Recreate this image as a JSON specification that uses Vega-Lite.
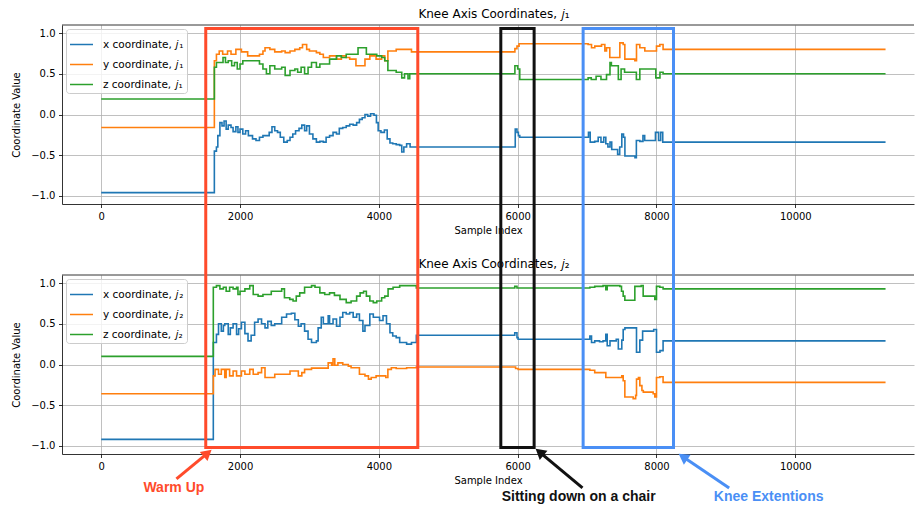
{
  "$schema": "https://vega.github.io/schema/vega-lite/v6.json",
  "padding": {"left": 11, "top": 8, "right": 0, "bottom": 0},
  "background": "white",
  "config": {
    "font": "DejaVu Sans",
    "view": {"stroke": null},
    "axis": {"labelFont": "DejaVu Sans", "labelFontSize": 10, "labelColor": "#000", "titleFont": "DejaVu Sans", "titleFontSize": 10, "titleFontWeight": "normal", "titleColor": "#000", "tickColor": "#000", "tickSize": 3.5, "tickWidth": 0.8, "domainColor": "#000", "domainWidth": 0.8, "gridColor": "#b0b0b0", "gridWidth": 0.8, "labelPadding": 3.5, "labelFlush": false},
    "axisY": {"titlePadding": 9},
    "axisX": {"titlePadding": 4},
    "legend": {"orient": "top-left", "offset": 4, "fillColor": "rgba(255,255,255,0.8)", "strokeColor": "#cccccc", "cornerRadius": 3, "padding": 3, "symbolType": "stroke", "symbolSize": 529, "symbolStrokeWidth": 1.5, "labelFont": "DejaVu Sans", "labelFontSize": 10.5, "labelColor": "#000", "rowPadding": 2, "labelOffset": 9, "title": null}
  },
  "datasets": {
    "j1": [
      {"sample":0,"value":-0.96,"axis":"x"},{"sample":1630,"value":-0.45,"axis":"x"},{"sample":1660,"value":-0.40,"axis":"x"},{"sample":1680,"value":-0.26,"axis":"x"},{"sample":1710,"value":-0.10,"axis":"x"},{"sample":1740,"value":-0.14,"axis":"x"},{"sample":1770,"value":-0.08,"axis":"x"},{"sample":1800,"value":-0.18,"axis":"x"},{"sample":1830,"value":-0.13,"axis":"x"},{"sample":1870,"value":-0.16,"axis":"x"},{"sample":1900,"value":-0.21,"axis":"x"},{"sample":1940,"value":-0.15,"axis":"x"},{"sample":1970,"value":-0.22,"axis":"x"},{"sample":2000,"value":-0.18,"axis":"x"},{"sample":2040,"value":-0.24,"axis":"x"},{"sample":2080,"value":-0.20,"axis":"x"},{"sample":2120,"value":-0.26,"axis":"x"},{"sample":2180,"value":-0.30,"axis":"x"},{"sample":2230,"value":-0.32,"axis":"x"},{"sample":2280,"value":-0.28,"axis":"x"},{"sample":2330,"value":-0.26,"axis":"x"},{"sample":2420,"value":-0.22,"axis":"x"},{"sample":2460,"value":-0.15,"axis":"x"},{"sample":2500,"value":-0.20,"axis":"x"},{"sample":2540,"value":-0.22,"axis":"x"},{"sample":2580,"value":-0.28,"axis":"x"},{"sample":2630,"value":-0.34,"axis":"x"},{"sample":2680,"value":-0.32,"axis":"x"},{"sample":2720,"value":-0.28,"axis":"x"},{"sample":2760,"value":-0.24,"axis":"x"},{"sample":2800,"value":-0.20,"axis":"x"},{"sample":2850,"value":-0.17,"axis":"x"},{"sample":2890,"value":-0.13,"axis":"x"},{"sample":2930,"value":-0.20,"axis":"x"},{"sample":2960,"value":-0.14,"axis":"x"},{"sample":3000,"value":-0.24,"axis":"x"},{"sample":3050,"value":-0.30,"axis":"x"},{"sample":3100,"value":-0.34,"axis":"x"},{"sample":3150,"value":-0.33,"axis":"x"},{"sample":3200,"value":-0.34,"axis":"x"},{"sample":3240,"value":-0.28,"axis":"x"},{"sample":3290,"value":-0.26,"axis":"x"},{"sample":3340,"value":-0.22,"axis":"x"},{"sample":3390,"value":-0.24,"axis":"x"},{"sample":3430,"value":-0.17,"axis":"x"},{"sample":3480,"value":-0.16,"axis":"x"},{"sample":3530,"value":-0.14,"axis":"x"},{"sample":3580,"value":-0.12,"axis":"x"},{"sample":3630,"value":-0.13,"axis":"x"},{"sample":3680,"value":-0.10,"axis":"x"},{"sample":3720,"value":-0.06,"axis":"x"},{"sample":3760,"value":-0.04,"axis":"x"},{"sample":3800,"value":0.0,"axis":"x"},{"sample":3840,"value":-0.02,"axis":"x"},{"sample":3880,"value":0.01,"axis":"x"},{"sample":3930,"value":-0.01,"axis":"x"},{"sample":3965,"value":-0.10,"axis":"x"},{"sample":3990,"value":-0.20,"axis":"x"},{"sample":4030,"value":-0.22,"axis":"x"},{"sample":4080,"value":-0.19,"axis":"x"},{"sample":4120,"value":-0.30,"axis":"x"},{"sample":4160,"value":-0.35,"axis":"x"},{"sample":4200,"value":-0.36,"axis":"x"},{"sample":4250,"value":-0.37,"axis":"x"},{"sample":4300,"value":-0.38,"axis":"x"},{"sample":4330,"value":-0.46,"axis":"x"},{"sample":4360,"value":-0.40,"axis":"x"},{"sample":4400,"value":-0.36,"axis":"x"},{"sample":4450,"value":-0.40,"axis":"x"},{"sample":5965,"value":-0.18,"axis":"x"},{"sample":5990,"value":-0.22,"axis":"x"},{"sample":6010,"value":-0.26,"axis":"x"},{"sample":6030,"value":-0.28,"axis":"x"},{"sample":7020,"value":-0.22,"axis":"x"},{"sample":7045,"value":-0.34,"axis":"x"},{"sample":7110,"value":-0.33,"axis":"x"},{"sample":7160,"value":-0.28,"axis":"x"},{"sample":7200,"value":-0.34,"axis":"x"},{"sample":7240,"value":-0.28,"axis":"x"},{"sample":7270,"value":-0.36,"axis":"x"},{"sample":7300,"value":-0.40,"axis":"x"},{"sample":7330,"value":-0.34,"axis":"x"},{"sample":7355,"value":-0.43,"axis":"x"},{"sample":7440,"value":-0.49,"axis":"x"},{"sample":7470,"value":-0.40,"axis":"x"},{"sample":7500,"value":-0.24,"axis":"x"},{"sample":7525,"value":-0.28,"axis":"x"},{"sample":7545,"value":-0.51,"axis":"x"},{"sample":7690,"value":-0.53,"axis":"x"},{"sample":7710,"value":-0.32,"axis":"x"},{"sample":7760,"value":-0.33,"axis":"x"},{"sample":7805,"value":-0.26,"axis":"x"},{"sample":7830,"value":-0.32,"axis":"x"},{"sample":7985,"value":-0.22,"axis":"x"},{"sample":8030,"value":-0.32,"axis":"x"},{"sample":8060,"value":-0.22,"axis":"x"},{"sample":8090,"value":-0.34,"axis":"x"},{"sample":11300,"value":-0.34,"axis":"x"},
      {"sample":0,"value":-0.16,"axis":"y"},{"sample":1630,"value":0.66,"axis":"y"},{"sample":1660,"value":0.74,"axis":"y"},{"sample":1700,"value":0.78,"axis":"y"},{"sample":1750,"value":0.74,"axis":"y"},{"sample":1820,"value":0.78,"axis":"y"},{"sample":1870,"value":0.74,"axis":"y"},{"sample":1940,"value":0.80,"axis":"y"},{"sample":2020,"value":0.77,"axis":"y"},{"sample":2110,"value":0.72,"axis":"y"},{"sample":2280,"value":0.74,"axis":"y"},{"sample":2330,"value":0.78,"axis":"y"},{"sample":2360,"value":0.82,"axis":"y"},{"sample":2430,"value":0.80,"axis":"y"},{"sample":2500,"value":0.77,"axis":"y"},{"sample":2600,"value":0.78,"axis":"y"},{"sample":2650,"value":0.76,"axis":"y"},{"sample":2720,"value":0.78,"axis":"y"},{"sample":2790,"value":0.80,"axis":"y"},{"sample":2860,"value":0.82,"axis":"y"},{"sample":2900,"value":0.86,"axis":"y"},{"sample":2960,"value":0.80,"axis":"y"},{"sample":3000,"value":0.78,"axis":"y"},{"sample":3100,"value":0.76,"axis":"y"},{"sample":3150,"value":0.74,"axis":"y"},{"sample":3200,"value":0.70,"axis":"y"},{"sample":3290,"value":0.72,"axis":"y"},{"sample":3390,"value":0.68,"axis":"y"},{"sample":3460,"value":0.72,"axis":"y"},{"sample":3530,"value":0.70,"axis":"y"},{"sample":3580,"value":0.68,"axis":"y"},{"sample":3670,"value":0.60,"axis":"y"},{"sample":3800,"value":0.68,"axis":"y"},{"sample":3870,"value":0.72,"axis":"y"},{"sample":3960,"value":0.68,"axis":"y"},{"sample":4040,"value":0.72,"axis":"y"},{"sample":4085,"value":0.66,"axis":"y"},{"sample":4130,"value":0.78,"axis":"y"},{"sample":4250,"value":0.80,"axis":"y"},{"sample":4400,"value":0.80,"axis":"y"},{"sample":4470,"value":0.77,"axis":"y"},{"sample":5960,"value":0.81,"axis":"y"},{"sample":5990,"value":0.84,"axis":"y"},{"sample":6020,"value":0.87,"axis":"y"},{"sample":7015,"value":0.86,"axis":"y"},{"sample":7064,"value":0.82,"axis":"y"},{"sample":7111,"value":0.84,"axis":"y"},{"sample":7208,"value":0.86,"axis":"y"},{"sample":7256,"value":0.78,"axis":"y"},{"sample":7280,"value":0.82,"axis":"y"},{"sample":7327,"value":0.70,"axis":"y"},{"sample":7472,"value":0.88,"axis":"y"},{"sample":7520,"value":0.86,"axis":"y"},{"sample":7544,"value":0.68,"axis":"y"},{"sample":7688,"value":0.66,"axis":"y"},{"sample":7712,"value":0.86,"axis":"y"},{"sample":7760,"value":0.82,"axis":"y"},{"sample":7832,"value":0.78,"axis":"y"},{"sample":8000,"value":0.84,"axis":"y"},{"sample":8048,"value":0.86,"axis":"y"},{"sample":8095,"value":0.80,"axis":"y"},{"sample":11300,"value":0.80,"axis":"y"},
      {"sample":0,"value":0.19,"axis":"z"},{"sample":1630,"value":0.58,"axis":"z"},{"sample":1660,"value":0.64,"axis":"z"},{"sample":1755,"value":0.70,"axis":"z"},{"sample":1790,"value":0.64,"axis":"z"},{"sample":1830,"value":0.66,"axis":"z"},{"sample":1880,"value":0.60,"axis":"z"},{"sample":1920,"value":0.64,"axis":"z"},{"sample":1960,"value":0.56,"axis":"z"},{"sample":2000,"value":0.62,"axis":"z"},{"sample":2040,"value":0.66,"axis":"z"},{"sample":2280,"value":0.62,"axis":"z"},{"sample":2330,"value":0.56,"axis":"z"},{"sample":2380,"value":0.50,"axis":"z"},{"sample":2430,"value":0.60,"axis":"z"},{"sample":2500,"value":0.56,"axis":"z"},{"sample":2600,"value":0.58,"axis":"z"},{"sample":2650,"value":0.48,"axis":"z"},{"sample":2720,"value":0.54,"axis":"z"},{"sample":2790,"value":0.56,"axis":"z"},{"sample":2830,"value":0.52,"axis":"z"},{"sample":2880,"value":0.58,"axis":"z"},{"sample":2930,"value":0.50,"axis":"z"},{"sample":2980,"value":0.58,"axis":"z"},{"sample":3030,"value":0.64,"axis":"z"},{"sample":3100,"value":0.58,"axis":"z"},{"sample":3150,"value":0.62,"axis":"z"},{"sample":3290,"value":0.68,"axis":"z"},{"sample":3390,"value":0.72,"axis":"z"},{"sample":3460,"value":0.70,"axis":"z"},{"sample":3530,"value":0.74,"axis":"z"},{"sample":3700,"value":0.82,"axis":"z"},{"sample":3820,"value":0.74,"axis":"z"},{"sample":3970,"value":0.72,"axis":"z"},{"sample":4040,"value":0.70,"axis":"z"},{"sample":4085,"value":0.66,"axis":"z"},{"sample":4130,"value":0.54,"axis":"z"},{"sample":4250,"value":0.52,"axis":"z"},{"sample":4330,"value":0.45,"axis":"z"},{"sample":4370,"value":0.50,"axis":"z"},{"sample":4420,"value":0.44,"axis":"z"},{"sample":4445,"value":0.50,"axis":"z"},{"sample":5960,"value":0.60,"axis":"z"},{"sample":6000,"value":0.56,"axis":"z"},{"sample":6030,"value":0.43,"axis":"z"},{"sample":7015,"value":0.45,"axis":"z"},{"sample":7060,"value":0.43,"axis":"z"},{"sample":7130,"value":0.47,"axis":"z"},{"sample":7200,"value":0.43,"axis":"z"},{"sample":7280,"value":0.49,"axis":"z"},{"sample":7330,"value":0.64,"axis":"z"},{"sample":7350,"value":0.60,"axis":"z"},{"sample":7450,"value":0.43,"axis":"z"},{"sample":7490,"value":0.56,"axis":"z"},{"sample":7540,"value":0.52,"axis":"z"},{"sample":7710,"value":0.43,"axis":"z"},{"sample":7760,"value":0.56,"axis":"z"},{"sample":7990,"value":0.45,"axis":"z"},{"sample":8050,"value":0.52,"axis":"z"},{"sample":8095,"value":0.50,"axis":"z"},{"sample":11300,"value":0.50,"axis":"z"}
    ],
    "j2": [
      {"sample":0,"value":-0.92,"axis":"x"},{"sample":1615,"value":0.27,"axis":"x"},{"sample":1660,"value":0.37,"axis":"x"},{"sample":1690,"value":0.50,"axis":"x"},{"sample":1730,"value":0.41,"axis":"x"},{"sample":1760,"value":0.48,"axis":"x"},{"sample":1780,"value":0.50,"axis":"x"},{"sample":1830,"value":0.37,"axis":"x"},{"sample":1860,"value":0.45,"axis":"x"},{"sample":1900,"value":0.50,"axis":"x"},{"sample":1950,"value":0.37,"axis":"x"},{"sample":1980,"value":0.44,"axis":"x"},{"sample":2020,"value":0.52,"axis":"x"},{"sample":2070,"value":0.38,"axis":"x"},{"sample":2115,"value":0.29,"axis":"x"},{"sample":2160,"value":0.36,"axis":"x"},{"sample":2210,"value":0.52,"axis":"x"},{"sample":2260,"value":0.56,"axis":"x"},{"sample":2310,"value":0.50,"axis":"x"},{"sample":2360,"value":0.45,"axis":"x"},{"sample":2400,"value":0.53,"axis":"x"},{"sample":2450,"value":0.48,"axis":"x"},{"sample":2500,"value":0.50,"axis":"x"},{"sample":2600,"value":0.58,"axis":"x"},{"sample":2670,"value":0.62,"axis":"x"},{"sample":2740,"value":0.63,"axis":"x"},{"sample":2790,"value":0.55,"axis":"x"},{"sample":2840,"value":0.47,"axis":"x"},{"sample":2880,"value":0.50,"axis":"x"},{"sample":2930,"value":0.41,"axis":"x"},{"sample":2980,"value":0.31,"axis":"x"},{"sample":3030,"value":0.27,"axis":"x"},{"sample":3100,"value":0.29,"axis":"x"},{"sample":3125,"value":0.45,"axis":"x"},{"sample":3170,"value":0.58,"axis":"x"},{"sample":3200,"value":0.50,"axis":"x"},{"sample":3270,"value":0.60,"axis":"x"},{"sample":3290,"value":0.50,"axis":"x"},{"sample":3340,"value":0.56,"axis":"x"},{"sample":3390,"value":0.47,"axis":"x"},{"sample":3440,"value":0.58,"axis":"x"},{"sample":3480,"value":0.64,"axis":"x"},{"sample":3530,"value":0.62,"axis":"x"},{"sample":3580,"value":0.64,"axis":"x"},{"sample":3630,"value":0.58,"axis":"x"},{"sample":3680,"value":0.62,"axis":"x"},{"sample":3720,"value":0.54,"axis":"x"},{"sample":3770,"value":0.41,"axis":"x"},{"sample":3800,"value":0.48,"axis":"x"},{"sample":3870,"value":0.62,"axis":"x"},{"sample":3920,"value":0.58,"axis":"x"},{"sample":4010,"value":0.54,"axis":"x"},{"sample":4060,"value":0.60,"axis":"x"},{"sample":4110,"value":0.50,"axis":"x"},{"sample":4160,"value":0.39,"axis":"x"},{"sample":4200,"value":0.35,"axis":"x"},{"sample":4250,"value":0.33,"axis":"x"},{"sample":4300,"value":0.27,"axis":"x"},{"sample":4400,"value":0.25,"axis":"x"},{"sample":4470,"value":0.27,"axis":"x"},{"sample":4540,"value":0.36,"axis":"x"},{"sample":5958,"value":0.39,"axis":"x"},{"sample":5990,"value":0.33,"axis":"x"},{"sample":6006,"value":0.31,"axis":"x"},{"sample":7040,"value":0.35,"axis":"x"},{"sample":7064,"value":0.27,"axis":"x"},{"sample":7110,"value":0.29,"axis":"x"},{"sample":7180,"value":0.28,"axis":"x"},{"sample":7230,"value":0.29,"axis":"x"},{"sample":7270,"value":0.37,"axis":"x"},{"sample":7290,"value":0.23,"axis":"x"},{"sample":7330,"value":0.29,"axis":"x"},{"sample":7420,"value":0.31,"axis":"x"},{"sample":7450,"value":0.19,"axis":"x"},{"sample":7500,"value":0.30,"axis":"x"},{"sample":7520,"value":0.43,"axis":"x"},{"sample":7545,"value":0.45,"axis":"x"},{"sample":7690,"value":0.45,"axis":"x"},{"sample":7712,"value":0.15,"axis":"x"},{"sample":7760,"value":0.30,"axis":"x"},{"sample":7800,"value":0.41,"axis":"x"},{"sample":7960,"value":0.43,"axis":"x"},{"sample":8000,"value":0.15,"axis":"x"},{"sample":8050,"value":0.17,"axis":"x"},{"sample":8095,"value":0.29,"axis":"x"},{"sample":11300,"value":0.29,"axis":"x"},
      {"sample":0,"value":-0.36,"axis":"y"},{"sample":1615,"value":-0.14,"axis":"y"},{"sample":1640,"value":-0.06,"axis":"y"},{"sample":1690,"value":-0.12,"axis":"y"},{"sample":1730,"value":-0.06,"axis":"y"},{"sample":1780,"value":-0.16,"axis":"y"},{"sample":1800,"value":-0.06,"axis":"y"},{"sample":1850,"value":-0.14,"axis":"y"},{"sample":1900,"value":-0.08,"axis":"y"},{"sample":1950,"value":-0.14,"axis":"y"},{"sample":2020,"value":-0.08,"axis":"y"},{"sample":2070,"value":-0.12,"axis":"y"},{"sample":2140,"value":-0.06,"axis":"y"},{"sample":2190,"value":-0.12,"axis":"y"},{"sample":2260,"value":-0.10,"axis":"y"},{"sample":2310,"value":-0.04,"axis":"y"},{"sample":2360,"value":-0.16,"axis":"y"},{"sample":2500,"value":-0.12,"axis":"y"},{"sample":2620,"value":-0.12,"axis":"y"},{"sample":2720,"value":-0.08,"axis":"y"},{"sample":2840,"value":-0.14,"axis":"y"},{"sample":2890,"value":-0.10,"axis":"y"},{"sample":2930,"value":-0.06,"axis":"y"},{"sample":3030,"value":-0.045,"axis":"y"},{"sample":3270,"value":0.02,"axis":"y"},{"sample":3320,"value":-0.01,"axis":"y"},{"sample":3340,"value":0.07,"axis":"y"},{"sample":3365,"value":-0.01,"axis":"y"},{"sample":3410,"value":0.02,"axis":"y"},{"sample":3480,"value":0.0,"axis":"y"},{"sample":3560,"value":-0.02,"axis":"y"},{"sample":3600,"value":-0.04,"axis":"y"},{"sample":3720,"value":-0.12,"axis":"y"},{"sample":3800,"value":-0.14,"axis":"y"},{"sample":3850,"value":-0.18,"axis":"y"},{"sample":3890,"value":-0.16,"axis":"y"},{"sample":3960,"value":-0.14,"axis":"y"},{"sample":4100,"value":-0.16,"axis":"y"},{"sample":4130,"value":-0.06,"axis":"y"},{"sample":4180,"value":-0.04,"axis":"y"},{"sample":4250,"value":-0.05,"axis":"y"},{"sample":4400,"value":-0.04,"axis":"y"},{"sample":4540,"value":-0.03,"axis":"y"},{"sample":5970,"value":-0.05,"axis":"y"},{"sample":6006,"value":-0.06,"axis":"y"},{"sample":7040,"value":-0.07,"axis":"y"},{"sample":7110,"value":-0.10,"axis":"y"},{"sample":7270,"value":-0.16,"axis":"y"},{"sample":7500,"value":-0.14,"axis":"y"},{"sample":7520,"value":-0.20,"axis":"y"},{"sample":7544,"value":-0.40,"axis":"y"},{"sample":7664,"value":-0.42,"axis":"y"},{"sample":7700,"value":-0.38,"axis":"y"},{"sample":7712,"value":-0.18,"axis":"y"},{"sample":7740,"value":-0.16,"axis":"y"},{"sample":7760,"value":-0.26,"axis":"y"},{"sample":7790,"value":-0.32,"axis":"y"},{"sample":7810,"value":-0.34,"axis":"y"},{"sample":7952,"value":-0.36,"axis":"y"},{"sample":7976,"value":-0.40,"axis":"y"},{"sample":8000,"value":-0.16,"axis":"y"},{"sample":8048,"value":-0.15,"axis":"y"},{"sample":8095,"value":-0.22,"axis":"y"},{"sample":11300,"value":-0.22,"axis":"y"},
      {"sample":0,"value":0.10,"axis":"z"},{"sample":1615,"value":0.95,"axis":"z"},{"sample":1660,"value":0.97,"axis":"z"},{"sample":1710,"value":0.93,"axis":"z"},{"sample":1760,"value":0.95,"axis":"z"},{"sample":1800,"value":0.90,"axis":"z"},{"sample":1850,"value":0.95,"axis":"z"},{"sample":1900,"value":0.93,"axis":"z"},{"sample":1950,"value":0.95,"axis":"z"},{"sample":1970,"value":0.86,"axis":"z"},{"sample":2000,"value":0.90,"axis":"z"},{"sample":2070,"value":0.93,"axis":"z"},{"sample":2140,"value":0.97,"axis":"z"},{"sample":2190,"value":0.86,"axis":"z"},{"sample":2260,"value":0.84,"axis":"z"},{"sample":2330,"value":0.86,"axis":"z"},{"sample":2450,"value":0.90,"axis":"z"},{"sample":2600,"value":0.93,"axis":"z"},{"sample":2640,"value":0.82,"axis":"z"},{"sample":2716,"value":0.80,"axis":"z"},{"sample":2764,"value":0.78,"axis":"z"},{"sample":2810,"value":0.84,"axis":"z"},{"sample":2860,"value":0.88,"axis":"z"},{"sample":2930,"value":0.95,"axis":"z"},{"sample":3030,"value":0.97,"axis":"z"},{"sample":3080,"value":0.95,"axis":"z"},{"sample":3150,"value":0.88,"axis":"z"},{"sample":3220,"value":0.86,"axis":"z"},{"sample":3290,"value":0.88,"axis":"z"},{"sample":3360,"value":0.85,"axis":"z"},{"sample":3440,"value":0.80,"axis":"z"},{"sample":3530,"value":0.76,"axis":"z"},{"sample":3600,"value":0.78,"axis":"z"},{"sample":3680,"value":0.84,"axis":"z"},{"sample":3730,"value":0.88,"axis":"z"},{"sample":3780,"value":0.90,"axis":"z"},{"sample":3820,"value":0.84,"axis":"z"},{"sample":3870,"value":0.78,"axis":"z"},{"sample":3920,"value":0.76,"axis":"z"},{"sample":3970,"value":0.78,"axis":"z"},{"sample":4040,"value":0.82,"axis":"z"},{"sample":4085,"value":0.84,"axis":"z"},{"sample":4133,"value":0.93,"axis":"z"},{"sample":4205,"value":0.95,"axis":"z"},{"sample":4300,"value":0.97,"axis":"z"},{"sample":4470,"value":0.97,"axis":"z"},{"sample":4540,"value":0.94,"axis":"z"},{"sample":5958,"value":0.96,"axis":"z"},{"sample":5990,"value":0.94,"axis":"z"},{"sample":7040,"value":0.95,"axis":"z"},{"sample":7110,"value":0.96,"axis":"z"},{"sample":7230,"value":0.97,"axis":"z"},{"sample":7270,"value":0.92,"axis":"z"},{"sample":7290,"value":0.97,"axis":"z"},{"sample":7472,"value":0.96,"axis":"z"},{"sample":7496,"value":0.90,"axis":"z"},{"sample":7520,"value":0.84,"axis":"z"},{"sample":7544,"value":0.79,"axis":"z"},{"sample":7664,"value":0.79,"axis":"z"},{"sample":7688,"value":0.96,"axis":"z"},{"sample":7780,"value":0.97,"axis":"z"},{"sample":7808,"value":0.84,"axis":"z"},{"sample":7952,"value":0.84,"axis":"z"},{"sample":7976,"value":0.80,"axis":"z"},{"sample":8000,"value":0.96,"axis":"z"},{"sample":8048,"value":0.95,"axis":"z"},{"sample":8095,"value":0.93,"axis":"z"},{"sample":11300,"value":0.93,"axis":"z"}
    ],
    "events": [
      {"event": "Warm Up", "start": 1506, "end": 4561},
      {"event": "Sitting down on a chair", "start": 5757, "end": 6237},
      {"event": "Knee Extentions", "start": 6943, "end": 8245}
    ]
  },
  "spacing": 71,
  "bounds": "flush",
  "resolve": {"scale": {"color": "independent"}, "legend": {"color": "independent"}},
  "vconcat": [
    {
      "width": 852,
      "height": 179,
      "layer": [
        {
          "data": {"values": [{}]},
          "mark": {"type": "rule", "color": "#000", "strokeWidth": 0.8},
          "encoding": {"y": {"datum": 1.1, "type": "quantitative", "scale": {"domain": [-1.1, 1.1], "nice": false}}}
        },
        {
          "data": {"name": "j1"},
          "mark": {"type": "line", "interpolate": "step-after", "strokeWidth": 1.6},
          "encoding": {
            "x": {"field": "sample", "type": "quantitative", "title": "Sample Index", "scale": {"domain": [-565, 11710], "nice": false, "zero": false}, "axis": {"values": [0, 2000, 4000, 6000, 8000, 10000], "format": "d", "grid": true}},
            "y": {"field": "value", "type": "quantitative", "title": "Coordinate Value", "scale": {"domain": [-1.1, 1.1], "nice": false}, "axis": {"values": [-1, -0.5, 0, 0.5, 1], "format": ".1f", "grid": true}},
            "color": {"field": "axis", "type": "nominal", "scale": {"domain": ["x", "y", "z"], "range": ["#1f77b4", "#ff7f0e", "#2ca02c"]}, "legend": {"labelExpr": "datum.label + ' coordinate, 𝑗₁'"}}
          }
        },
        {
          "data": {"values": [{}]},
          "mark": {"type": "text", "font": "DejaVu Sans", "fontSize": 12, "color": "#000", "align": "center", "baseline": "alphabetic", "clip": false},
          "encoding": {"x": {"datum": 5659, "type": "quantitative"}, "y": {"datum": 1.182, "type": "quantitative"}, "text": {"value": "Knee Axis Coordinates, 𝑗₁"}}
        }
      ]
    },
    {
      "width": 852,
      "height": 179,
      "layer": [
        {
          "data": {"values": [{}]},
          "mark": {"type": "rule", "color": "#000", "strokeWidth": 0.8},
          "encoding": {"y": {"datum": 1.1, "type": "quantitative", "scale": {"domain": [-1.1, 1.1], "nice": false}}}
        },
        {
          "data": {"name": "j2"},
          "mark": {"type": "line", "interpolate": "step-after", "strokeWidth": 1.6},
          "encoding": {
            "x": {"field": "sample", "type": "quantitative", "title": "Sample Index", "scale": {"domain": [-565, 11710], "nice": false, "zero": false}, "axis": {"values": [0, 2000, 4000, 6000, 8000, 10000], "format": "d", "grid": true}},
            "y": {"field": "value", "type": "quantitative", "title": "Coordinate Value", "scale": {"domain": [-1.1, 1.1], "nice": false}, "axis": {"values": [-1, -0.5, 0, 0.5, 1], "format": ".1f", "grid": true}},
            "color": {"field": "axis", "type": "nominal", "scale": {"domain": ["x", "y", "z"], "range": ["#1f77b4", "#ff7f0e", "#2ca02c"]}, "legend": {"labelExpr": "datum.label + ' coordinate, 𝑗₂'"}}
          }
        },
        {
          "data": {"values": [{}]},
          "mark": {"type": "text", "font": "DejaVu Sans", "fontSize": 12, "color": "#000", "align": "center", "baseline": "alphabetic", "clip": false},
          "encoding": {"x": {"datum": 5659, "type": "quantitative"}, "y": {"datum": 1.182, "type": "quantitative"}, "text": {"value": "Knee Axis Coordinates, 𝑗₂"}}
        },
        {
          "data": {"name": "events"},
          "mark": {"type": "rect", "filled": false, "strokeWidth": 3, "clip": false},
          "encoding": {
            "x": {"field": "start", "type": "quantitative"},
            "x2": {"field": "end"},
            "y": {"datum": 4.13, "type": "quantitative"},
            "y2": {"datum": -1.02},
            "stroke": {"field": "event", "type": "nominal", "scale": {"domain": ["Warm Up", "Sitting down on a chair", "Knee Extentions"], "range": ["#ff4b2b", "#111111", "#4a8ff5"]}, "legend": null}
          }
        },
        {
          "data": {"values": [{}]},
          "mark": {"type": "rule", "color": "#ff4b2b", "strokeWidth": 3, "clip": false},
          "encoding": {"x": {"datum": 1084, "type": "quantitative"}, "x2": {"datum": 1533}, "y": {"datum": -1.406, "type": "quantitative"}, "y2": {"datum": -1.09}}
        },
        {
          "data": {"values": [{}]},
          "mark": {"type": "point", "shape": "triangle-up", "filled": true, "size": 144, "opacity": 1, "color": "#ff4b2b", "angle": 50, "clip": false},
          "encoding": {"x": {"datum": 1533, "type": "quantitative"}, "y": {"datum": -1.09, "type": "quantitative"}}
        },
        {
          "data": {"values": [{}]},
          "mark": {"type": "rule", "color": "#111111", "strokeWidth": 3, "clip": false},
          "encoding": {"x": {"datum": 6934, "type": "quantitative"}, "x2": {"datum": 6316}, "y": {"datum": -1.517, "type": "quantitative"}, "y2": {"datum": -1.077}}
        },
        {
          "data": {"values": [{}]},
          "mark": {"type": "point", "shape": "triangle-up", "filled": true, "size": 144, "opacity": 1, "color": "#111111", "angle": 310, "clip": false},
          "encoding": {"x": {"datum": 6316, "type": "quantitative"}, "y": {"datum": -1.077, "type": "quantitative"}}
        },
        {
          "data": {"values": [{}]},
          "mark": {"type": "rule", "color": "#4a8ff5", "strokeWidth": 3, "clip": false},
          "encoding": {"x": {"datum": 9047, "type": "quantitative"}, "x2": {"datum": 8381}, "y": {"datum": -1.517, "type": "quantitative"}, "y2": {"datum": -1.134}}
        },
        {
          "data": {"values": [{}]},
          "mark": {"type": "point", "shape": "triangle-up", "filled": true, "size": 144, "opacity": 1, "color": "#4a8ff5", "angle": 304, "clip": false},
          "encoding": {"x": {"datum": 8381, "type": "quantitative"}, "y": {"datum": -1.134, "type": "quantitative"}}
        },
        {
          "data": {"values": [{}]},
          "mark": {"type": "text", "font": "Liberation Sans", "fontSize": 14, "fontWeight": "bold", "color": "#ff4b2b", "baseline": "middle", "clip": false},
          "encoding": {"x": {"datum": 1047, "type": "quantitative"}, "y": {"datum": -1.524, "type": "quantitative"}, "text": {"value": "Warm Up"}}
        },
        {
          "data": {"values": [{}]},
          "mark": {"type": "text", "font": "Liberation Sans", "fontSize": 14, "fontWeight": "bold", "color": "#111111", "baseline": "middle", "clip": false},
          "encoding": {"x": {"datum": 6879, "type": "quantitative"}, "y": {"datum": -1.626, "type": "quantitative"}, "text": {"value": "Sitting down on a chair"}}
        },
        {
          "data": {"values": [{}]},
          "mark": {"type": "text", "font": "Liberation Sans", "fontSize": 14, "fontWeight": "bold", "color": "#4a8ff5", "baseline": "middle", "clip": false},
          "encoding": {"x": {"datum": 9616, "type": "quantitative"}, "y": {"datum": -1.626, "type": "quantitative"}, "text": {"value": "Knee Extentions"}}
        }
      ]
    }
  ]
}
